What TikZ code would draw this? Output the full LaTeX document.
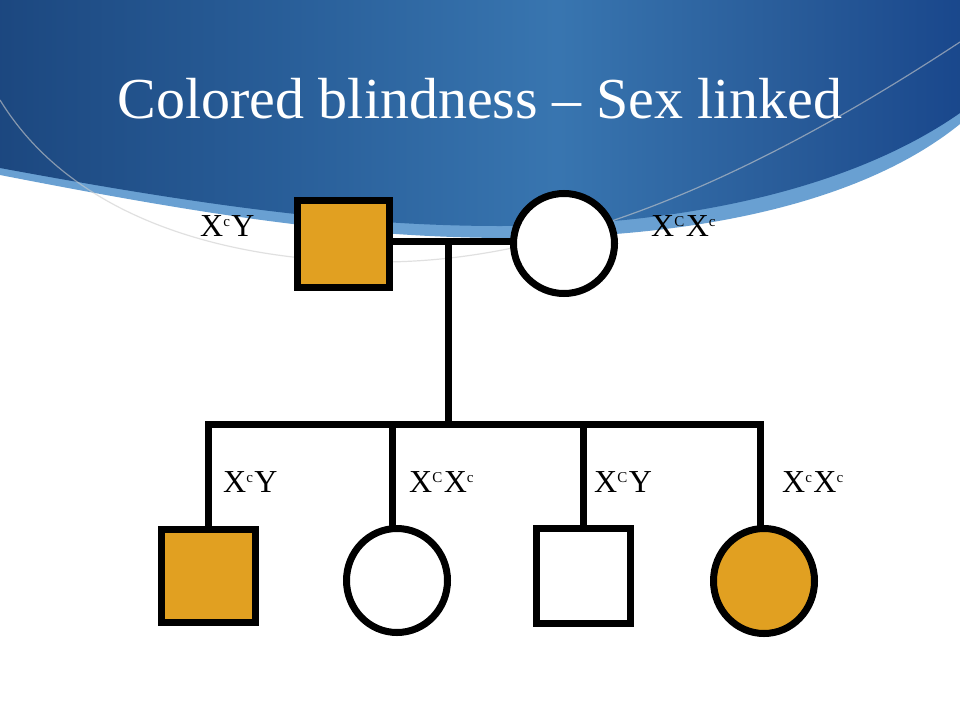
\documentclass[tikz,border=0pt]{standalone}
\usepackage{fontspec}
\setmainfont{Liberation Serif}
\usetikzlibrary{shapes.geometric}
\definecolor{gold}{RGB}{225,160,33}
\definecolor{bandblue}{RGB}{105,160,210}
\pgfdeclarehorizontalshading{swooshshade}{100bp}{rgb(0bp)=(0.11,0.28,0.50); rgb(25bp)=(0.11,0.28,0.50); rgb(40bp)=(0.16,0.37,0.60); rgb(54bp)=(0.22,0.46,0.69); rgb(66bp)=(0.16,0.36,0.60); rgb(75bp)=(0.10,0.28,0.55); rgb(100bp)=(0.10,0.28,0.55)}
\newcommand\gsup[1]{\raisebox{10pt}{\fontsize{15}{15}\selectfont #1}\kern1.5pt}
\begin{document}
\begin{tikzpicture}[x=1pt,y=-1pt,
  person/.style={draw=black,line width=7pt,inner sep=0pt,outer sep=0pt},
  male/.style={person,rectangle},
  female/.style={person,ellipse},
  affected/.style={fill=gold},
  unaffected/.style={fill=white},
  link/.style={line width=7pt,draw=black},
  geno/.style={anchor=base west,inner sep=0pt,font=\fontsize{32}{32}\selectfont},
]
\useasboundingbox (0,0) rectangle (960,720);
\fill[white] (0,0) rectangle (960,720);
% swoosh background
\fill[bandblue] (0,0) -- (0,175) .. controls (200,214) and (350,238) .. (510,238) .. controls (690,238) and (860,205) .. (960,124) -- (960,0) -- cycle;
\shade[shading=swooshshade] (0,0) -- (0,168) .. controls (200,205) and (350,226) .. (500,226) .. controls (680,226) and (850,190) .. (960,113) -- (960,0) -- cycle;
\draw[gray!40,opacity=0.6,line width=1.2pt] (0,100) .. controls (80,230) and (250,262) .. (380,262) .. controls (560,262) and (750,180) .. (960,42);
% title
\node[anchor=base,inner sep=0pt,text=white,font=\fontsize{58}{58}\selectfont] (title) at (480,118) {Colored blindness -- Sex linked};
% parents
\node[male,affected,minimum width=92pt,minimum height=87pt] (father) at (343.5,244) {};
\node[female,unaffected,minimum width=101pt,minimum height=100pt] (mother) at (564,243.5) {};
% children
\node[male,affected,minimum width=94pt,minimum height=93pt] (c1) at (208.5,576) {};
\node[female,unaffected,minimum width=101pt,minimum height=104pt] (c2) at (397,580.5) {};
\node[male,unaffected,minimum width=94pt,minimum height=95pt] (c3) at (583.5,576) {};
\node[female,affected,minimum width=101pt,minimum height=105pt] (c4) at (764,581) {};
% connectors
\coordinate (m) at (448,241);
\coordinate (s) at (448,424);
\coordinate (d2) at (392,424);
\coordinate (d4) at (760.5,424);
\draw[link] (father.east |- m) -- (mother.west |- m);
\draw[link] (m) -- (s);
\draw[link] (c1.north) -- (c1.north |- s) -- (d4) -- (d4 |- c4.north);
\draw[link] (d2) -- (d2 |- c2.north);
\draw[link] (c3.north |- s) -- (c3.north);
% genotype labels
\node[geno] (gf) at (200,236) {X\gsup{c}Y};
\node[geno] (gm) at (651,236) {X\gsup{C}X\gsup{c}};
\node[geno] (g1) at (223,492) {X\gsup{c}Y};
\node[geno] (g2) at (409,492) {X\gsup{C}X\gsup{c}};
\node[geno] (g3) at (594,492) {X\gsup{C}Y};
\node[geno] (g4) at (782,492) {X\gsup{c}X\gsup{c}};
\end{tikzpicture}
\end{document}
